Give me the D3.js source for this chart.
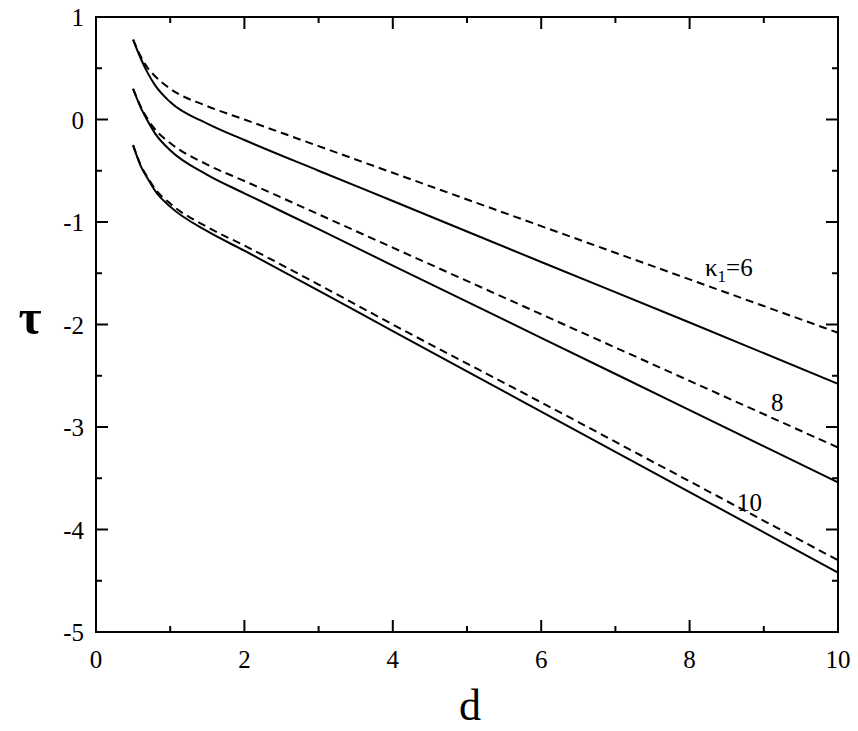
<!DOCTYPE html>
<html><head><meta charset="utf-8">
<script src="https://cdn.jsdelivr.net/npm/d3@7"></script>
<style>body{margin:0;background:#fff}</style>
</head><body>
<svg id="chart" width="858" height="731"></svg>
<script>
// values
var dVals = [0.5, 0.6, 0.7, 0.8, 1.0, 1.5, 2, 3, 4, 6, 8, 10];
var solid6 = [0.78, 0.6, 0.45, 0.33, 0.17, -0.04, -0.2, -0.5, -0.795, -1.39, -1.98, -2.58];
var dash6 = [0.78, 0.62, 0.5, 0.42, 0.3, 0.13, 0.0, -0.26, -0.52, -1.04, -1.56, -2.08];
var solid8 = [0.3, 0.12, -0.02, -0.14, -0.3, -0.54, -0.72, -1.07, -1.425, -2.13, -2.835, -3.54];
var dash8 = [0.3, 0.13, 0.0, -0.1, -0.23, -0.44, -0.6, -0.925, -1.25, -1.9, -2.55, -3.2];
var solid10 = [-0.25, -0.45, -0.58, -0.7, -0.85, -1.09, -1.28, -1.67, -2.065, -2.85, -3.635, -4.42];
var dash10 = [-0.25, -0.44, -0.57, -0.68, -0.82, -1.05, -1.23, -1.61, -2.0, -2.76, -3.53, -4.3];
var xTicks = [0, 2, 4, 6, 8, 10];
var yTicks = [-5, -4, -3, -2, -1, 0, 1];

var svg = d3.select("#chart");
var x = d3.scaleLinear().domain([0, 10]).range([96, 838]);
var y = d3.scaleLinear().domain([-5, 1]).range([632, 17]);
var font = "'Liberation Serif', serif";

// curves
var line = d3.line().x((v, i) => x(dVals[i])).y(v => y(v)).curve(d3.curveMonotoneX);
[[solid6, false], [dash6, true], [solid8, false], [dash8, true], [solid10, false], [dash10, true]].forEach(([s, dashed]) => {
    svg.append("path").attr("d", line(s)).attr("fill", "none").attr("stroke", "#000")
        .attr("stroke-width", 2).attr("stroke-dasharray", dashed ? "8,5" : null);
});

// frame
svg.append("rect").attr("x", 96).attr("y", 17).attr("width", 742).attr("height", 615)
    .attr("fill", "none").attr("stroke", "#000").attr("stroke-width", 2);

// ticks, inward on all sides
function ticks(axis, vals, len) {
    vals.forEach(v => {
        if (axis == "x") {
            svg.append("line").attr("x1", x(v)).attr("x2", x(v)).attr("y1", 632).attr("y2", 632 - len).attr("stroke", "#000").attr("stroke-width", 2);
            svg.append("line").attr("x1", x(v)).attr("x2", x(v)).attr("y1", 17).attr("y2", 17 + len).attr("stroke", "#000").attr("stroke-width", 2);
        } else {
            svg.append("line").attr("y1", y(v)).attr("y2", y(v)).attr("x1", 96).attr("x2", 96 + len).attr("stroke", "#000").attr("stroke-width", 2);
            svg.append("line").attr("y1", y(v)).attr("y2", y(v)).attr("x1", 838).attr("x2", 838 - len).attr("stroke", "#000").attr("stroke-width", 2);
        }
    });
}
ticks("x", xTicks, 12);
ticks("x", d3.range(1, 10, 2), 6);
ticks("y", yTicks, 12);
ticks("y", d3.range(-4.5, 1, 1), 6);

// tick labels
xTicks.forEach(v => {
    svg.append("text").attr("x", x(v)).attr("y", 668).attr("text-anchor", "middle")
        .attr("font-family", font).attr("font-size", 25).text(v);
});
yTicks.forEach(v => {
    svg.append("text").attr("x", 84).attr("y", y(v) + 9).attr("text-anchor", "end")
        .attr("font-family", font).attr("font-size", 25).text(v);
});

// axis titles
svg.append("text").attr("x", 470).attr("y", 720).attr("text-anchor", "middle")
    .attr("font-family", font).attr("font-size", 44).text("d");
svg.append("text").attr("x", 30).attr("y", 334).attr("text-anchor", "middle")
    .attr("font-family", font).attr("font-size", 50).attr("font-weight", "bold").text("τ");

// curve labels
var k = svg.append("text").attr("x", 705).attr("y", 276).attr("font-family", font).attr("font-size", 25);
k.append("tspan").text("κ");
k.append("tspan").attr("font-size", 17).attr("dy", 6).text("1");
k.append("tspan").attr("dy", -6).text("=6");
svg.append("text").attr("x", 771).attr("y", 411).attr("font-family", font).attr("font-size", 25).text("8");
svg.append("text").attr("x", 737).attr("y", 511).attr("font-family", font).attr("font-size", 25).text("10");
</script>
</body></html>
